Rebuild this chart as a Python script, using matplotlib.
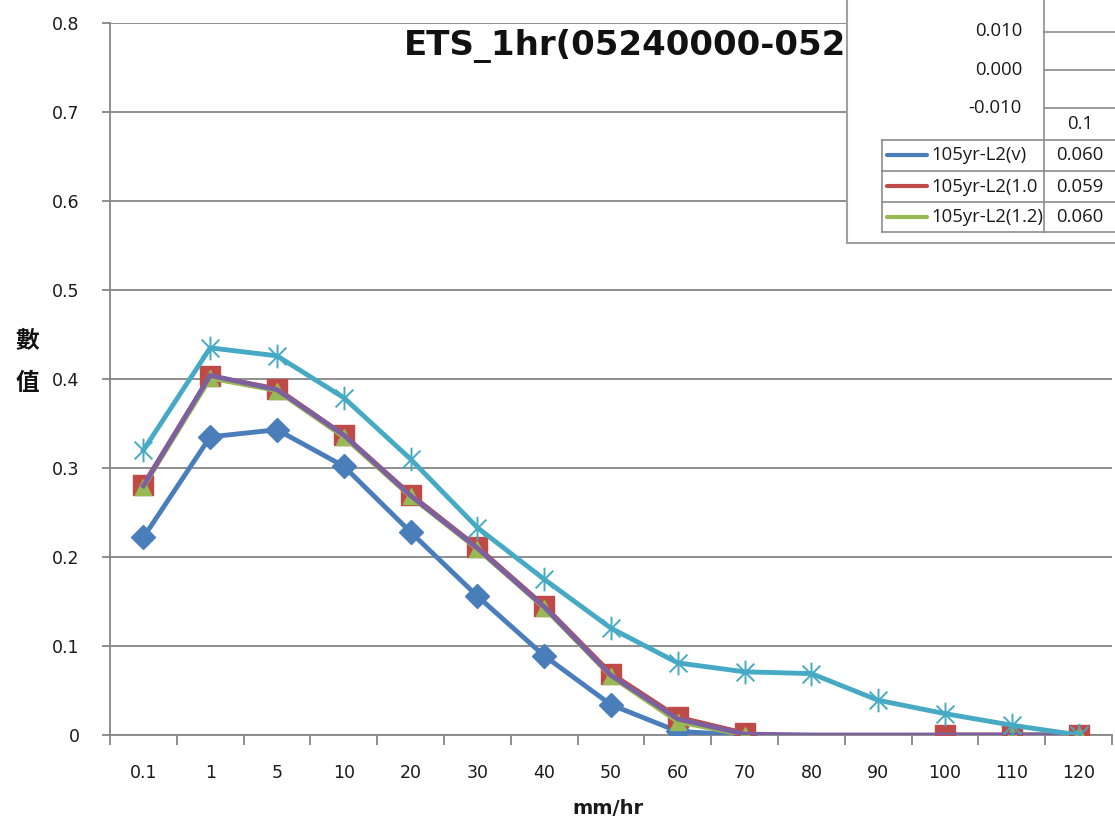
import numpy as np
import matplotlib
matplotlib.use("Agg")
import matplotlib.pyplot as plt
from matplotlib.path import Path

# ---- data ----
categories = ["0.1", "1", "5", "10", "20", "30", "40", "50", "60", "70",
              "80", "90", "100", "110", "120"]
nan = np.nan
ets_v = [0.222, 0.335, 0.343, 0.302, 0.228, 0.156, 0.089, 0.034, 0.004, 0.000,
         nan, nan, nan, nan, nan]
ets_10 = [0.281, 0.403, 0.389, 0.337, 0.270, 0.211, 0.145, 0.069, 0.020, 0.002,
          nan, nan, 0.000, 0.000, 0.000]
ets_12 = [0.279, 0.401, 0.387, 0.335, 0.268, 0.209, 0.143, 0.066, 0.015, 0.000,
          nan, nan, nan, 0.000, 0.000]
ets_p = [0.280, 0.404, 0.388, 0.337, 0.269, 0.210, 0.144, 0.067, 0.018, 0.001,
         0.000, 0.000, 0.000, 0.000, 0.000]
ets_c = [0.320, 0.435, 0.426, 0.379, 0.310, 0.233, 0.175, 0.120, 0.081, 0.071,
         0.069, 0.039, 0.024, 0.011, 0.000]
y_ticks = [0.0, 0.1, 0.2, 0.3, 0.4, 0.5, 0.6, 0.7, 0.8]
y_tick_labels = ["0", "0.1", "0.2", "0.3", "0.4", "0.5", "0.6", "0.7", "0.8"]

# table of the neighbouring chart
tbl_names = ["105yr-L2(v)", "105yr-L2(1.0", "105yr-L2(1.2)"]
tbl_values = ["0.060", "0.059", "0.060"]
tbl_axis_labels = ["0.010", "0.000", "-0.010"]
tbl_category = "0.1"

BLUE = "#4A7EBB"
RED = "#BE4B48"
GREEN = "#98B954"
PURPLE = "#7D60A0"
CYAN = "#46AAC5"
GRID = "#868686"
TXT = "#1A1A1A"
TFONT = ["Open Sans", "DejaVu Sans"]
TSIZE = 13.3

W, H = 1115, 822
fig = plt.figure(figsize=(W / 100, H / 100), dpi=100)
fig.patch.set_facecolor("white")

ax = fig.add_axes([110 / W, 1 - 735 / H, (1112 - 110) / W, (735 - 23) / H])
x = np.arange(len(categories))

# Excel-like "star" marker: vertical bar plus an X
star = Path([(0, -1), (0, 1), (-0.75, -0.75), (0.75, 0.75), (-0.75, 0.75), (0.75, -0.75)],
            [Path.MOVETO, Path.LINETO, Path.MOVETO, Path.LINETO, Path.MOVETO, Path.LINETO])

lw = 3.5
ax.plot(x, ets_v, color=BLUE, lw=lw, marker="D", ms=12, mfc=BLUE, mec=BLUE, zorder=3)
ax.plot(x, ets_10, color=RED, lw=lw, marker="s", ms=14, mfc=RED, mec=RED, zorder=3)
ax.plot(x, ets_12, color=GREEN, lw=lw, marker="^", ms=12, mfc=GREEN, mec=GREEN, zorder=3)
ax.plot(x, ets_p, color=PURPLE, lw=lw, zorder=3)
ax.plot(x, ets_c, color=CYAN, lw=lw, marker=star, ms=17, mew=1.4, mfc="none", mec=CYAN, zorder=3)

ax.set_xlim(-0.5, len(categories) - 0.5)
ax.set_ylim(0, 0.8)
ax.set_yticks(y_ticks)
ax.set_yticklabels(y_tick_labels)
ax.set_xticks(x)
ax.set_xticklabels(categories)
ax.set_xticks(np.arange(-0.5, len(categories), 1.0), minor=True)

ax.grid(axis="y", color=GRID, lw=1.3, zorder=1)
ax.set_axisbelow(True)
for s in ["top", "right"]:
    ax.spines[s].set_visible(False)
for s in ["left", "bottom"]:
    ax.spines[s].set_color(GRID)
    ax.spines[s].set_linewidth(1.3)

ax.tick_params(axis="y", direction="out", length=6, width=1.3, color=GRID, pad=16,
               labelsize=12.5, labelcolor=TXT)
ax.tick_params(axis="x", which="major", length=0, pad=21, labelsize=12.5, labelcolor=TXT)
ax.tick_params(axis="x", which="minor", direction="out", length=7, width=1.3, color=GRID)

fig.text(608 / W, 1 - 808 / H, "mm/hr", ha="center", va="center", fontsize=14,
         fontweight="bold", color=TXT)
for ch, yy in zip("數值", [341, 383]):
    fig.text(27 / W, 1 - yy / H, ch, ha="center", va="center", fontsize=17,
             fontweight="bold", family=["Noto Sans CJK TC", "DejaVu Sans"], color="#111111")
fig.text(404 / W, 1 - 46 / H, "ETS_1hr(05240000-05242300)", ha="left", va="center",
         fontsize=24.5, fontweight="bold", color="#111111")

# ---- overlapping table panel from the neighbouring chart ----
ins = fig.add_axes([847 / W, 1 - 243 / H, (W - 847) / W, 243 / H], zorder=10)
ins.set_facecolor("white")
ins.set_xlim(847, W)
ins.set_ylim(243, 0)
ins.set_xticks([])
ins.set_yticks([])
for s in ["top", "right"]:
    ins.spines[s].set_visible(False)
for s in ["left", "bottom"]:
    ins.spines[s].set_color("#A0A0A0")
    ins.spines[s].set_linewidth(1.5)

LC = "#8C8C8C"
ins.plot([1044, 1044], [0, 232], color=LC, lw=1.2)
for yy in [32, 70, 108]:
    ins.plot([1044, W], [yy, yy], color=LC, lw=1.2)
for lab, yy in zip(tbl_axis_labels, [31, 70, 108]):
    ins.text(1022, yy, lab, ha="right", va="center", fontsize=TSIZE,
             family=TFONT, color=TXT)
ins.text(1080, 124, tbl_category, ha="center", va="center", fontsize=TSIZE,
         family=TFONT, color=TXT)

row_edges = [140, 171, 202, 232]
for yy in row_edges:
    ins.plot([882, W], [yy, yy], color=LC, lw=1.2)
ins.plot([882, 882], [140, 232], color=LC, lw=1.2)
for i, (name, val, col) in enumerate(zip(tbl_names, tbl_values, [BLUE, RED, GREEN])):
    yc = (row_edges[i] + row_edges[i + 1]) / 2
    ins.plot([887, 927], [yc, yc], color=col, lw=3, solid_capstyle="round")
    ins.text(931, yc, name, ha="left", va="center", fontsize=TSIZE,
             family=TFONT, color=TXT)
    ins.text(1080, yc, val, ha="center", va="center", fontsize=TSIZE,
             family=TFONT, color=TXT)

fig.savefig("out.png", dpi=100, facecolor="white")
